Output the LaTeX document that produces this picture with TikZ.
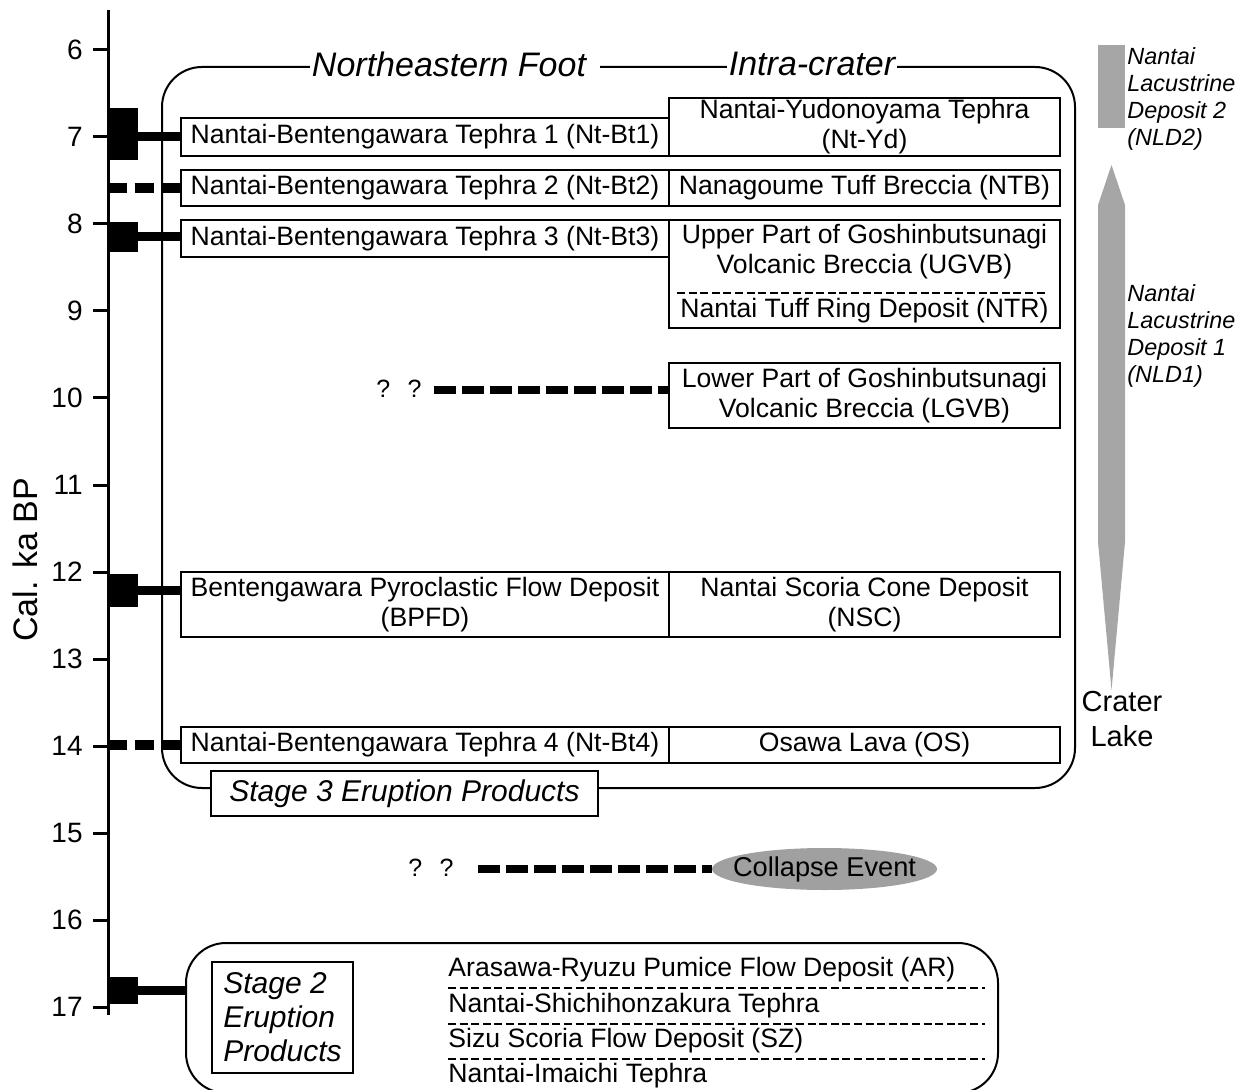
\documentclass[tikz,border=0pt]{standalone}
\usepackage{fontspec}
\setmainfont{Liberation Sans}
\usepackage{tikz}
\usetikzlibrary{shapes.geometric}

\definecolor{lakegray}{RGB}{166,166,166}
\definecolor{eventgray}{RGB}{160,160,160}

\newcommand{\bodyfont}{\fontsize{13.3}{15}\selectfont}
\tikzset{
  unitbox/.style={draw, line width=1.2pt, inner sep=0pt, align=center, font=\bodyfont},
  stagebox/.style={draw, line width=1pt, rounded corners=20pt, inner sep=0pt},
  headlabel/.style={fill=white, inner xsep=1pt, inner ysep=0pt, font=\fontsize{17}{20}\selectfont\itshape},
  plaintext/.style={inner sep=0pt, font=\bodyfont},
  agelink/.style={line width=4.5pt},
  agedash/.style={line width=5pt, dash pattern=on 9.5pt off 3.75pt},
  unknowndash/.style={line width=4pt, dash pattern=on 11pt off 3pt},
  thindash/.style={line width=1.3pt, dash pattern=on 4pt off 1.8pt}
}

\newcommand{\agetick}[1] {\draw [line width=1.5pt] (93,{50+(#1-6)*87}) -- (108,{50+(#1-6)*87}); \node at (83,{50+(#1-6)*87}) (tick#1) [anchor=east, inner sep=0pt, font=\fontsize{14}{16}\selectfont] {#1};}
\newcommand{\ageblock}[3] {\node at (#1) (#2) [fill, inner sep=0pt, minimum width=15pt, minimum height=#3] {};}
\newcommand{\footbox}[4] {\node at (#1) (#2) [unitbox, minimum width=244pt, minimum height=#3] {#4};}
\newcommand{\craterbox}[4] {\node at (#1) (#2) [unitbox, minimum width=195.5pt, minimum height=#3] {#4};}

\begin{document}
\begin{tikzpicture}[x=0.5pt, y=-0.5pt]
\useasboundingbox (0,0) rectangle (1245,1090);

\coordinate (axtop) at (108,10);
\coordinate (axbot) at (108,1015);
\draw [line width=1.5pt] (axtop) -- (axbot);
\agetick{6};
\agetick{7};
\agetick{8};
\agetick{9};
\agetick{10};
\agetick{11};
\agetick{12};
\agetick{13};
\agetick{14};
\agetick{15};
\agetick{16};
\agetick{17};
\node at (25,560) (axislabel) [rotate=90, font=\fontsize{17}{20}\selectfont] {Cal. ka BP};

\node at (618.5,427.5) (stagethree) [stagebox, minimum width=456.5pt, minimum height=360.5pt] {};
\node at (455,64) (foot) [headlabel] {Northeastern Foot\kern6pt};
\node at (812,64) (crater) [headlabel] {Intra-crater};

\footbox {425,137} {bt1} {19pt} {Nantai-Bentengawara Tephra 1 (Nt-Bt1)};
\craterbox {864.5,127} {yd} {29pt} {Nantai-Yudonoyama Tephra\\(Nt-Yd)};
\footbox {425,188} {bt2} {18pt} {Nantai-Bentengawara Tephra 2 (Nt-Bt2)};
\craterbox {864.5,188} {ntb} {18pt} {Nanagoume Tuff Breccia (NTB)};
\footbox {425,238.5} {bt3} {18.5pt} {Nantai-Bentengawara Tephra 3 (Nt-Bt3)};
\craterbox {864.5,274} {ugvb} {54pt} {};
\node at (864.5,252) (ugvbtext) [plaintext, align=center] {Upper Part of Goshinbutsunagi\\Volcanic Breccia (UGVB)};
\draw [thindash] (677,293) -- (1046,293);
\node at (864.5,311) (ntr) [plaintext] {Nantai Tuff Ring Deposit (NTR)};
\craterbox {864.5,395.5} {lgvb} {32.5pt} {Lower Part of Goshinbutsunagi\\Volcanic Breccia (LGVB)};
\footbox {425,604.5} {bpfd} {32.5pt} {Bentengawara Pyroclastic Flow Deposit\\(BPFD)};
\craterbox {864.5,604.5} {nsc} {32.5pt} {Nantai Scoria Cone Deposit\\(NSC)};
\footbox {425,745} {bt4} {18pt} {Nantai-Bentengawara Tephra 4 (Nt-Bt4)};
\craterbox {864.5,745} {os} {18pt} {Osawa Lava (OS)};
\node at (404.5,793.5) (stagethreelabel) [draw, line width=1.2pt, fill=white, minimum width=193.5pt, minimum height=22.5pt, font=\fontsize{15}{17}\selectfont\itshape] {Stage 3 Eruption Products};

\ageblock {123,134} {blkbt1} {26pt};
\ageblock {123,237} {blkbt3} {15pt};
\ageblock {123,590.5} {blkbpfd} {16.5pt};
\ageblock {123,990.5} {blkstagetwo} {13.5pt};
\draw [agelink] (blkbt1.east |- bt1.west) -- (bt1.west);
\draw [agedash] (axtop |- bt2.west) -- (bt2.west);
\draw [agelink] (blkbt3.east) -- (blkbt3.east -| bt3.west);
\draw [agelink] (blkbpfd.east) -- (blkbpfd.east -| bpfd.west);
\draw [agedash] (axtop |- bt4.west) -- (bt4.west);

\node at (399,389) (qlgvb) [font=\fontsize{12.5}{14}\selectfont] {?\hspace{0.7em}?};
\coordinate (lgvbstart) at (434,390);
\draw [unknowndash] (lgvbstart) -- (lgvbstart -| lgvb.west);

\node at (824.5,869) (collapse) [ellipse, fill=eventgray, inner sep=0pt, minimum width=112.5pt, minimum height=21pt, font=\fontsize{13.6}{15}\selectfont] {\makebox[0pt]{Collapse Event}};
\node at (431,868) (qcollapse) [font=\fontsize{12.5}{14}\selectfont] {?\hspace{0.7em}?};
\coordinate (collapsestart) at (478,869);
\draw [unknowndash] (collapsestart) -- (collapse.west);

\node at (592,1018) (stagetwo) [stagebox, minimum width=406pt, minimum height=75pt] {};
\draw [agelink] (blkstagetwo.east) -- (blkstagetwo.east -| stagetwo.west);
\node at (282.5,1017.5) (stagetwolabel) [draw, line width=1.2pt, align=left, minimum width=70.5pt, minimum height=55.5pt, font=\fontsize{15}{17}\selectfont\itshape] {Stage 2\\Eruption\\Products};
\node at (448,970) (ar) [plaintext, anchor=west] {Arasawa-Ryuzu Pumice Flow Deposit (AR)};
\node at (448,1006) (shichi) [plaintext, anchor=west] {Nantai-Shichihonzakura Tephra};
\node at (448,1041) (sz) [plaintext, anchor=west] {Sizu Scoria Flow Deposit (SZ)};
\node at (448,1076) (imaichi) [plaintext, anchor=west] {Nantai-Imaichi Tephra};
\draw [thindash] (448,988) -- (985,988);
\draw [thindash] (448,1024) -- (985,1024);
\draw [thindash] (448,1059) -- (985,1059);

\fill [lakegray] (1098,45) rectangle (1125,128);
\fill [lakegray] (1111.5,165) -- (1125,205) -- (1125,542) -- (1111.5,690) -- (1098,542) -- (1098,205) -- cycle;
\node at (1127,47) (nldtwo) [anchor=north west, align=left, inner sep=0pt, font=\fontsize{11.7}{13.5}\selectfont\itshape] {Nantai\\Lacustrine\\Deposit 2\\(NLD2)};
\node at (1127,284) (nldone) [anchor=north west, align=left, inner sep=0pt, font=\fontsize{11.7}{13.5}\selectfont\itshape] {Nantai\\Lacustrine\\Deposit 1\\(NLD1)};
\node at (1122,719.5) (craterlake) [align=center, inner sep=0pt, font=\fontsize{14.5}{17.5}\selectfont] {Crater\\Lake};
\end{tikzpicture}
\end{document}
